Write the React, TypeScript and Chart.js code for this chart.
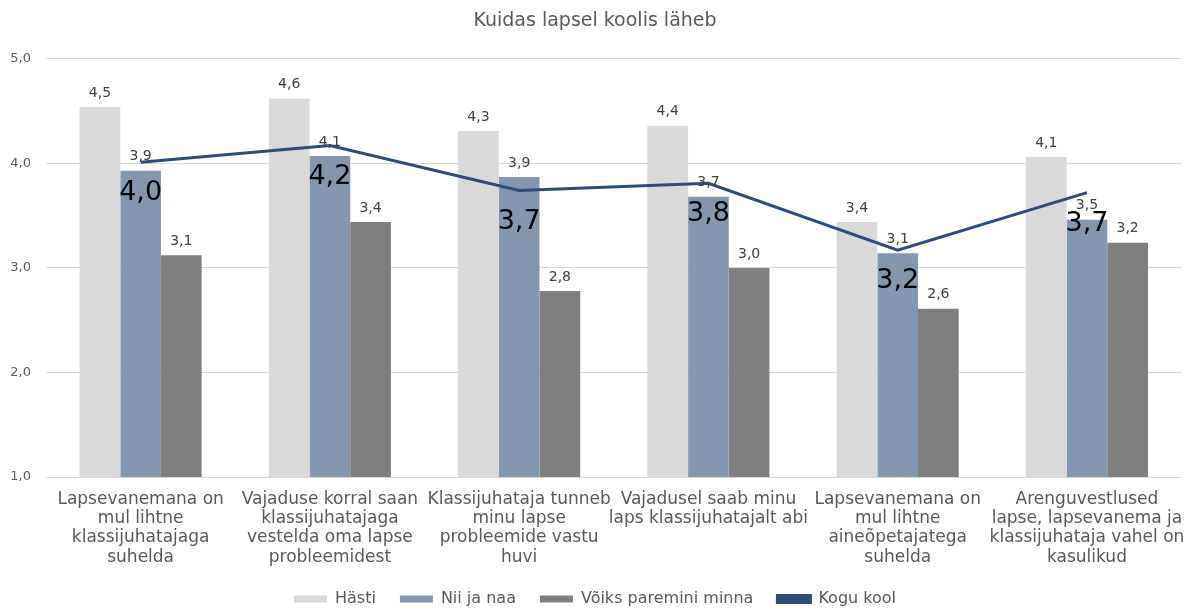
import React, { useEffect, useRef } from "react";
import { Chart, registerables } from "chart.js";

Chart.register(...registerables);

const titleText = "Kuidas lapsel koolis läheb";

const categories: string[][] = [
  ["Lapsevanemana on", "mul lihtne", "klassijuhatajaga", "suhelda"],
  ["Vajaduse korral saan", "klassijuhatajaga", "vestelda oma lapse", "probleemidest"],
  ["Klassijuhataja tunneb", "minu lapse", "probleemide vastu", "huvi"],
  ["Vajadusel saab minu", "laps klassijuhatajalt abi"],
  ["Lapsevanemana on", "mul lihtne", "aineõpetajatega", "suhelda"],
  ["Arenguvestlused", "lapse, lapsevanema ja", "klassijuhataja vahel on", "kasulikud"],
];

const seriesNames = ["Hästi", "Nii ja naa", "Võiks paremini minna", "Kogu kool"];

const hasti = [4.54, 4.62, 4.31, 4.36, 3.44, 4.06];
const niiJaNaa = [3.93, 4.07, 3.87, 3.68, 3.14, 3.46];
const voiksParemini = [3.12, 3.44, 2.78, 3.0, 2.61, 3.24];
const koguKool = [4.01, 4.17, 3.74, 3.81, 3.17, 3.72];

const yTicks = [1, 2, 3, 4, 5];

const FONT = "'DejaVu Sans', sans-serif";
const fmt = (v: number) => v.toFixed(1).replace(".", ",");

const valueLabels = {
  id: "valueLabels",
  afterDatasetsDraw(chart: any) {
    const ctx = chart.ctx;
    chart.data.datasets.forEach((ds: any, i: number) => {
      const meta = chart.getDatasetMeta(i);
      if (meta.hidden) return;
      meta.data.forEach((el: any, j: number) => {
        const txt = fmt(ds.data[j] as number);
        ctx.save();
        ctx.textAlign = "center";
        ctx.textBaseline = "middle";
        if (meta.type === "line") {
          ctx.font = `27px ${FONT}`;
          ctx.fillStyle = "#000000";
          ctx.fillText(txt, el.x, el.y + 31);
        } else {
          ctx.font = `14px ${FONT}`;
          ctx.fillStyle = "#404040";
          ctx.fillText(txt, el.x, el.y - 14);
        }
        ctx.restore();
      });
    });
  },
};

export default function App() {
  const canvasRef = useRef<HTMLCanvasElement | null>(null);

  useEffect(() => {
    document.body.style.margin = "0";
    const canvas = canvasRef.current;
    if (!canvas) return;
    const chart = new Chart(canvas, {
      type: "bar",
      data: {
        labels: categories,
        datasets: [
          {
            type: "bar",
            label: seriesNames[0],
            data: hasti,
            backgroundColor: "#d9d9d9",
            categoryPercentage: 0.645,
            barPercentage: 1,
            order: 1,
          },
          {
            type: "bar",
            label: seriesNames[1],
            data: niiJaNaa,
            backgroundColor: "#8497b0",
            categoryPercentage: 0.645,
            barPercentage: 1,
            order: 1,
          },
          {
            type: "bar",
            label: seriesNames[2],
            data: voiksParemini,
            backgroundColor: "#7f7f7f",
            categoryPercentage: 0.645,
            barPercentage: 1,
            order: 1,
          },
          {
            type: "line",
            label: seriesNames[3],
            data: koguKool,
            borderColor: "#2f4b7c",
            backgroundColor: "#2f4b7c",
            borderWidth: 3,
            pointRadius: 0,
            tension: 0,
            order: 0,
          } as any,
        ],
      },
      options: {
        responsive: false,
        animation: false,
        layout: { padding: { left: 0, right: 8, top: 0, bottom: -7 } },
        plugins: {
          title: {
            display: true,
            text: titleText,
            color: "#595959",
            font: { family: FONT, size: 19, weight: "normal" },
            padding: { top: 10, bottom: 26 },
          },
          legend: {
            position: "bottom",
            labels: {
              boxWidth: 33,
              boxHeight: 7,
              padding: 24,
              color: "#595959",
              font: { family: FONT, size: 16 },
              sort: (a: any, b: any) => a.datasetIndex - b.datasetIndex,
            },
          },
          tooltip: { enabled: false },
        },
        scales: {
          x: {
            grid: { display: false, drawTicks: false },
            border: { display: false },
            ticks: {
              color: "#595959",
              font: { family: FONT, size: 17, lineHeight: 1.13 },
              padding: 13,
              maxRotation: 0,
              autoSkip: false,
            },
            afterFit: (scale: any) => {
              scale.height = 90;
            },
          },
          y: {
            min: yTicks[0],
            max: yTicks[yTicks.length - 1],
            grid: { color: "#d9d9d9", drawTicks: false, lineWidth: 1 },
            border: { display: false },
            ticks: {
              stepSize: 1,
              color: "#595959",
              font: { family: FONT, size: 13 },
              padding: 15,
              callback: (v: any) => fmt(Number(v)),
            },
            afterFit: (scale: any) => {
              scale.width = 46;
            },
          },
        },
      },
      plugins: [valueLabels],
    });
    return () => chart.destroy();
  }, []);

  return (
    <div style={{ width: 1198, height: 610 }}>
      <canvas ref={canvasRef} width={1198} height={610} />
    </div>
  );
}
